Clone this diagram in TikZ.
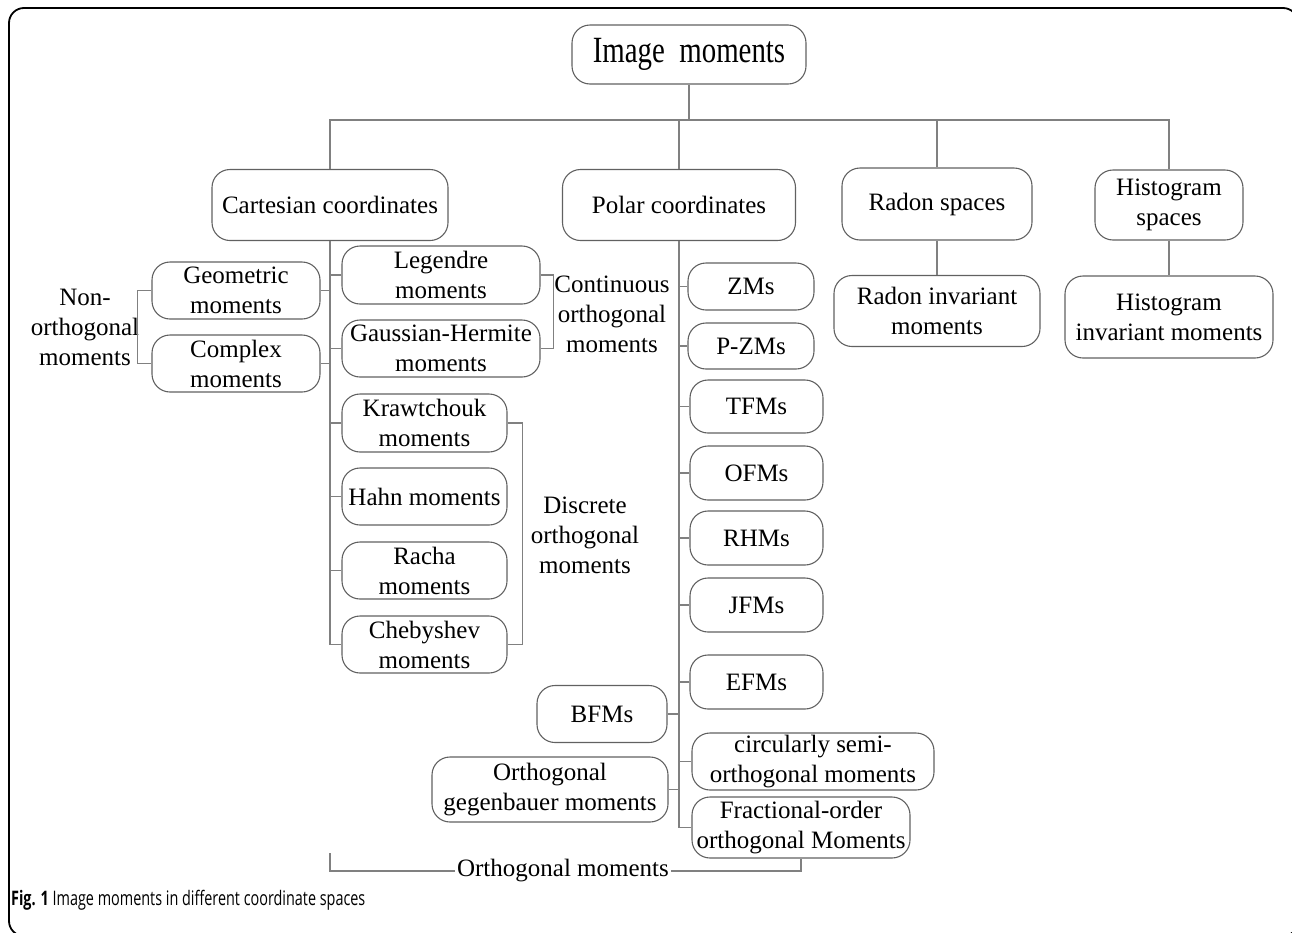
\documentclass[tikz,border=0pt]{standalone}
\usepackage{fontspec}
\setmainfont{Liberation Serif}
\newfontfamily\capfont{Open Sans}
\usetikzlibrary{calc}
\definecolor{boxc}{gray}{0.38}
\definecolor{linec}{gray}{0.5}
\begin{document}
\begin{tikzpicture}[x=1pt,y=-1pt,
  rbox/.style={draw=boxc, line width=1.1pt, rounded corners=18pt, align=center, inner sep=0pt, font=\fontsize{25}{30}\selectfont},
  lbl/.style={align=center, inner sep=0pt, font=\fontsize{25}{30}\selectfont},
  conn/.style={draw=linec, line width=1.1pt}]
\useasboundingbox (0,0) rectangle (1292,932);
\begin{scope}
\clip (0,0) rectangle (1292,932);
\draw[line width=1.8pt, rounded corners=15pt] (9,8) rectangle (1298,936);
\end{scope}

% top level
\node[rbox, minimum width=234pt, minimum height=59pt] (top) at (689,54.5) {\raisebox{-2pt}{\scalebox{0.78}[1]{\fontsize{37}{40}\selectfont Image~~moments}}};
\node[rbox, minimum width=236pt, minimum height=71pt] (cart) at (330,205) {Cartesian coordinates};
\node[rbox, minimum width=233pt, minimum height=71pt] (polar) at (679,205) {Polar coordinates};
\node[rbox, minimum width=190pt, minimum height=72pt] (radon) at (937,204) {Radon spaces};
\node[rbox, minimum width=148pt, minimum height=70pt] (hist) at (1169,205) {Histogram\\spaces};
\node[rbox, minimum width=206pt, minimum height=71pt] (radinv) at (937,311) {Radon invariant\\moments};
\node[rbox, minimum width=208pt, minimum height=82pt] (histinv) at (1169,317) {Histogram\\invariant moments};

% cartesian children
\node[rbox, minimum width=168pt, minimum height=57pt] (geo) at (236,290.5) {Geometric\\moments};
\node[rbox, minimum width=168pt, minimum height=57pt] (complex) at (236,363.5) {Complex\\moments};
\node[rbox, minimum width=198pt, minimum height=58pt] (legendre) at (441,275) {Legendre\\moments};
\node[rbox, minimum width=198pt, minimum height=57pt] (gauss) at (441,348.5) {Gaussian-Hermite\\moments};
\node[rbox, minimum width=165pt, minimum height=58pt] (kraw) at (424.5,423) {Krawtchouk\\moments};
\node[rbox, minimum width=165pt, minimum height=57pt] (hahn) at (424.5,496.5) {Hahn moments};
\node[rbox, minimum width=165pt, minimum height=57pt] (racha) at (424.5,570.5) {Racha\\moments};
\node[rbox, minimum width=165pt, minimum height=57pt] (cheb) at (424.5,644.5) {Chebyshev\\moments};

% polar children
\node[rbox, minimum width=126pt, minimum height=47pt] (zms) at (751,286.5) {ZMs};
\node[rbox, minimum width=126pt, minimum height=46pt] (pzms) at (751,346) {P-ZMs};
\node[rbox, minimum width=133pt, minimum height=53pt] (tfms) at (756.5,406.5) {TFMs};
\node[rbox, minimum width=133pt, minimum height=54pt] (ofms) at (756.5,473) {OFMs};
\node[rbox, minimum width=133pt, minimum height=54pt] (rhms) at (756.5,538) {RHMs};
\node[rbox, minimum width=133pt, minimum height=54pt] (jfms) at (756.5,605) {JFMs};
\node[rbox, minimum width=133pt, minimum height=54pt] (efms) at (756.5,682) {EFMs};
\node[rbox, minimum width=130pt, minimum height=57pt] (bfms) at (602,714) {BFMs};
\node[rbox, minimum width=242pt, minimum height=57pt] (circ) at (813,761.5) {circularly semi-\\orthogonal moments};
\node[rbox, minimum width=236pt, minimum height=65pt] (gegen) at (550,789.5) {Orthogonal\\gegenbauer moments};
\node[rbox, minimum width=218pt, minimum height=61pt] (frac) at (801,827.5) {Fractional-order\\orthogonal Moments};

% labels
\node[lbl] (nonorth) at (85,327) {Non-\\orthogonal\\moments};
\node[lbl] (cont) at (612,314) {Continuous\\orthogonal\\moments};
\node[lbl] (disc) at (585,535) {Discrete\\orthogonal\\moments};
\node[lbl, inner xsep=2pt] (orth) at (563,871) {Orthogonal moments};

% top connectors
\coordinate (bus) at (689,120);
\draw[conn] (top.south) -- (bus);
\draw[conn] (cart.north) -- (cart.north |- bus) -- (hist.north |- bus) -- (hist.north);
\draw[conn] (polar.north) -- (polar.north |- bus);
\draw[conn] (radon.north) -- (radon.north |- bus);
\draw[conn] (radon.south) -- (radinv.north);
\draw[conn] (hist.south) -- (histinv.north);

% cartesian trunk
\draw[conn] (cart.south) |- (cheb.west);
\foreach \n in {legendre,gauss,kraw,hahn,racha}
  \draw[conn] (\n.west) -- (\n.west -| cart.south);
\foreach \n in {geo,complex}
  \draw[conn] (\n.east) -- (\n.east -| cart.south);
\draw[conn] (geo.west) -- ++(-14,0) |- (complex.west);
\draw[conn] (legendre.east) -- ++(13,0) |- (gauss.east);
\draw[conn] (kraw.east) -- ++(15,0) |- (cheb.east);

% polar trunk
\draw[conn] (polar.south) |- (frac.west);
\foreach \n in {zms,pzms,tfms,ofms,rhms,jfms,efms,circ}
  \draw[conn] (\n.west) -- (\n.west -| polar.south);
\foreach \n in {bfms,gegen}
  \draw[conn] (\n.east) -- (\n.east -| polar.south);

% orthogonal bracket
\coordinate (ostart) at (330,853);
\draw[conn] (ostart) |- (orth.west);
\draw[conn] (orth.east) -| (frac.south);

% caption
\node[anchor=west, inner sep=0pt] (cap) at (11,900) {\scalebox{0.72}[1]{\capfont\fontsize{20}{23}\selectfont\textbf{Fig. 1} Image moments in different coordinate spaces}};
\end{tikzpicture}
\end{document}
